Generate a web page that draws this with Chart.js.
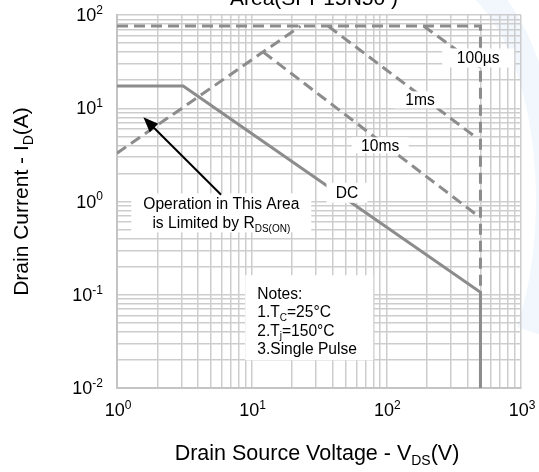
<!DOCTYPE html>
<html>
<head>
<meta charset="utf-8">
<script src="https://cdn.jsdelivr.net/npm/chart.js@4.4.0/dist/chart.umd.min.js"></script>
<style>
  body { margin: 0; background: #fff; }
  #wrap { width: 539px; height: 472px; }
</style>
</head>
<body>
<div id="wrap"><canvas id="soa" width="539" height="472"></canvas></div>
<script>
// safe operating area curves (V, A)
const dcV = [1, 3.1, 500, 500];
const dcI = [17.3, 17.3, 0.106, 0.01];
const limitV = [1, 500, 500];
const limitI = [76, 76, 0.106];
const rdsV = [1, 23];
const rdsI = [3.3, 76];
const ms10V = [12.2, 480];
const ms10I = [40, 0.7];
const ms1V = [37, 470];
const ms1I = [76, 4.8];
const us100V = [189, 500];
const us100I = [76, 27.5];

// decades shown on the axes (tick labels are 10^n)
const xDecades = [0, 1, 2, 3];
const yDecades = [-2, -1, 0, 1, 2];

const FONT = "'Liberation Sans', Arial, sans-serif";
const LINE = '#8c8c8c';

function gridValues(decades) {
  let vals = [];
  for (let k = 0; k < decades.length - 1; k++) {
    for (let m = 1; m < 10; m++) vals.push(m * Math.pow(10, decades[k]));
  }
  vals.push(Math.pow(10, decades[decades.length - 1]));
  return vals;
}

function pts(xs, ys) {
  return xs.map((x, i) => ({x: x, y: ys[i]}));
}

function curve(xs, ys, dashed) {
  return {
    data: pts(xs, ys),
    borderColor: LINE,
    borderWidth: 3,
    borderDash: dashed ? [11, 6] : [],
    pointRadius: 0,
    tension: 0,
    fill: false
  };
}

// rich text: parts = [[text, 'sub'|'sup'|'']]
function richWidth(ctx, parts, size) {
  let w = 0;
  parts.forEach(p => {
    ctx.font = (p[1] ? Math.round(size * 0.66) : size) + 'px ' + FONT;
    w += ctx.measureText(p[0]).width;
  });
  return w;
}
function drawRich(ctx, parts, x, y, size, align) {
  let w = richWidth(ctx, parts, size);
  let cx = x;
  if (align == 'center') cx = x - w / 2;
  if (align == 'right') cx = x - w;
  ctx.textAlign = 'left';
  ctx.textBaseline = 'alphabetic';
  parts.forEach(p => {
    let s = size, dy = 0;
    if (p[1] == 'sub') { s = Math.round(size * 0.66); dy = size * 0.22; }
    if (p[1] == 'sup') { s = Math.round(size * 0.66); dy = -size * 0.4; }
    ctx.font = s + 'px ' + FONT;
    ctx.fillText(p[0], cx, y + dy);
    cx += ctx.measureText(p[0]).width;
  });
}

// curve labels on white boxes, anchored in data space
const tags = [
  {lines: [[['100µs', '']]], v: 481, i: 34.6, w: 72, h: 19},
  {lines: [[['1ms', '']]], v: 178, i: 12.3, w: 52, h: 17},
  {lines: [[['10ms', '']]], v: 90, i: 4.0, w: 57, h: 16},
  {lines: [[['DC', '']]], v: 51, i: 1.24, w: 41, h: 20},
  {lines: [[['Operation in This Area', '']], [['is Limited by R', ''], ['DS(ON)', 'sub']]], v: 5.95, i: 0.755, w: 180, h: 39}
];
const notes = [
  [['Notes:', '']],
  [['1.T', ''], ['C', 'sub'], ['=25°C', '']],
  [['2.T', ''], ['j', 'sub'], ['=150°C', '']],
  [['3.Single Pulse', '']]
];

function arrow(ctx, x1, y1, x2, y2) {
  const a = Math.atan2(y2 - y1, x2 - x1);
  const L = 15, W = 6;
  ctx.beginPath();
  ctx.moveTo(x1, y1);
  ctx.lineTo(x2 - L * 0.8 * Math.cos(a), y2 - L * 0.8 * Math.sin(a));
  ctx.stroke();
  ctx.beginPath();
  ctx.moveTo(x2, y2);
  ctx.lineTo(x2 - L * Math.cos(a) + W * Math.sin(a), y2 - L * Math.sin(a) - W * Math.cos(a));
  ctx.lineTo(x2 - L * Math.cos(a) - W * Math.sin(a), y2 - L * Math.sin(a) + W * Math.cos(a));
  ctx.closePath();
  ctx.fill();
}

const overlay = {
  id: 'overlay',
  beforeDraw(chart) {
    const ctx = chart.ctx;
    ctx.save();
    ctx.fillStyle = '#fff';
    ctx.fillRect(0, 0, chart.width, chart.height);
    // faint watermark swoosh at the right
    ctx.strokeStyle = 'rgba(190,218,240,0.22)';
    ctx.lineWidth = 24;
    ctx.beginPath();
    ctx.ellipse(440, 200, 108, 228, 0, -75 * Math.PI / 180, 35 * Math.PI / 180);
    ctx.stroke();
    ctx.restore();
  },
  afterDatasetsDraw(chart) {
    const ctx = chart.ctx;
    const xs = chart.scales.x, ys = chart.scales.y;
    ctx.save();
    ctx.fillStyle = '#000';
    tags.forEach(t => {
      const cx = xs.getPixelForValue(t.v), cy = ys.getPixelForValue(t.i);
      ctx.fillStyle = '#fff';
      ctx.fillRect(cx - t.w / 2, cy - t.h / 2, t.w, t.h);
      ctx.fillStyle = '#000';
      const n = t.lines.length;
      t.lines.forEach((ln, k) => {
        const ly = cy + (k - (n - 1) / 2) * 19.5 + 5.5;
        drawRich(ctx, ln, cx, ly, 15.6, 'center');
      });
    });
    // notes box
    const nx = xs.getPixelForValue(11), ny = ys.getPixelForValue(0.104);
    ctx.fillStyle = '#fff';
    ctx.fillRect(nx - 12, ny - 18, 128, 85);
    ctx.fillStyle = '#000';
    notes.forEach((ln, k) => {
      drawRich(ctx, ln, nx, ny + 5.5 + k * 18.5, 15.6, 'left');
    });
    // arrow pointing into the R_DS(on) limited region
    ctx.strokeStyle = '#000';
    ctx.lineWidth = 2;
    arrow(ctx, xs.getPixelForValue(5.93), ys.getPixelForValue(1.18),
      xs.getPixelForValue(1.57), ys.getPixelForValue(8.0));
    ctx.restore();
  },
  afterDraw(chart) {
    const ctx = chart.ctx;
    const xs = chart.scales.x, ys = chart.scales.y;
    const area = chart.chartArea;
    ctx.save();
    ctx.fillStyle = '#000';
    xDecades.forEach(d => {
      const gx = xs.getPixelForValue(Math.pow(10, d));
      drawRich(ctx, [['10', ''], [String(d), 'sup']], gx + 1, area.bottom + 28, 18, 'center');
    });
    yDecades.forEach(d => {
      const gy = ys.getPixelForValue(Math.pow(10, d));
      drawRich(ctx, [['10', ''], [String(d), 'sup']], area.left - 14, gy + 6, 18, 'right');
    });
    // axis titles
    drawRich(ctx, [['Drain Source Voltage - V', ''], ['DS', 'sub'], ['(V)', '']],
      (area.left + area.right) / 2 - 2, 460, 21.5, 'center');
    ctx.save();
    ctx.translate(28, (area.top + area.bottom) / 2);
    ctx.rotate(-Math.PI / 2);
    drawRich(ctx, [['Drain Current - I', ''], ['D', 'sub'], ['(A)', '']], 0, 0, 21, 'center');
    ctx.restore();
    // title, cut off by the top edge in the source
    drawRich(ctx, [['Area(SPP15N50 )', '']], 314, 5, 21, 'center');
    ctx.restore();
  }
};

const xGrid = gridValues(xDecades);
const yGrid = gridValues(yDecades);

function axis(min, max, grid, horiz) {
  return {
    type: 'logarithmic',
    min: min,
    max: max,
    afterBuildTicks: s => { s.ticks = grid.map(v => ({value: v})); },
    afterFit: s => { if (horiz) s.height = 0; else s.width = 0; },
    ticks: {display: false},
    title: {display: false},
    grid: {color: '#cdcdcd', lineWidth: 1.5, drawTicks: false},
    border: {color: '#c4c4c4', width: 2}
  };
}

new Chart(document.getElementById('soa'), {
  type: 'line',
  data: {
    datasets: [
      curve(limitV, limitI, true),
      curve(rdsV, rdsI, true),
      curve(ms10V, ms10I, true),
      curve(ms1V, ms1I, true),
      curve(us100V, us100I, true),
      curve(dcV, dcI, false)
    ]
  },
  options: {
    responsive: false,
    animation: false,
    events: [],
    layout: {padding: {left: 117, right: 18, top: 15, bottom: 84}},
    plugins: {legend: {display: false}, tooltip: {enabled: false}},
    scales: {
      x: axis(Math.pow(10, xDecades[0]), Math.pow(10, xDecades[xDecades.length - 1]), xGrid, true),
      y: axis(Math.pow(10, yDecades[0]), Math.pow(10, yDecades[yDecades.length - 1]), yGrid, false)
    }
  },
  plugins: [overlay]
});
</script>
</body>
</html>
